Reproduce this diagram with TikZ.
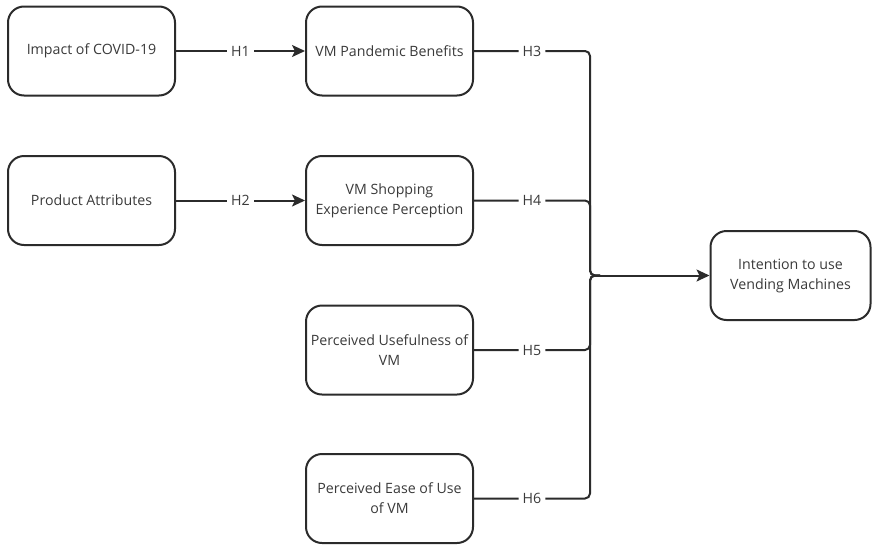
\documentclass[tikz,border=0pt]{standalone}
\usepackage{fontspec}
\setmainfont{Open Sans}
\usetikzlibrary{arrows.meta}
\definecolor{ink}{HTML}{2B2B2B}
\definecolor{txt}{HTML}{3A3A3A}
\begin{document}
\begin{tikzpicture}[x=1pt,y=-1pt,
  box/.style={draw=ink,line width=2pt,rounded corners=16pt,minimum width=167pt,minimum height=89pt,
    align=center,text=txt,font=\fontsize{14.2}{20}\selectfont,inner sep=2pt},
  conn/.style={draw=ink,line width=2pt},
  lbl/.style={fill=white,text=txt,font=\fontsize{14.2}{16}\selectfont,inner xsep=4pt,inner ysep=3pt},
  arr/.style={conn,-{Stealth[length=13pt,width=12pt,inset=3pt]}}]
\useasboundingbox (0,0) rectangle (872,544);
\node[box] (a) at (91.5,51) {Impact of COVID-19};
\node[box] (b) at (389.5,51) {VM Pandemic Benefits};
\node[box] (c) at (91.5,200.5) {Product Attributes};
\node[box] (d) at (389.5,200.5) {VM Shopping\\Experience Perception};
\node[box] (e) at (389.5,350) {Perceived Usefulness of\\VM};
\node[box] (f) at (389.5,498.5) {Perceived Ease of Use\\of VM};
\node[box,minimum width=160pt] (g) at (790.5,275.5) {Intention to use\\Vending Machines};
\coordinate (j) at (590,275.5);
\coordinate (k) at (600,275.5);
\draw[arr] (a) -- node[lbl]{H1} (b);
\draw[arr] (c) -- node[lbl]{H2} (d);
\draw[conn,rounded corners=5pt] (b.east) -| node[pos=0.25,lbl]{H3} (j) -- (k);
\draw[conn,rounded corners=5pt] (d.east) -| node[pos=0.25,lbl]{H4} (j) -- (k);
\draw[conn,rounded corners=5pt] (e.east) -| node[pos=0.25,lbl]{H5} (j) -- (k);
\draw[conn,rounded corners=5pt] (f.east) -| node[pos=0.25,lbl]{H6} (j) -- (k);
\draw[arr] (k) -- (g.west);
\end{tikzpicture}
\end{document}
